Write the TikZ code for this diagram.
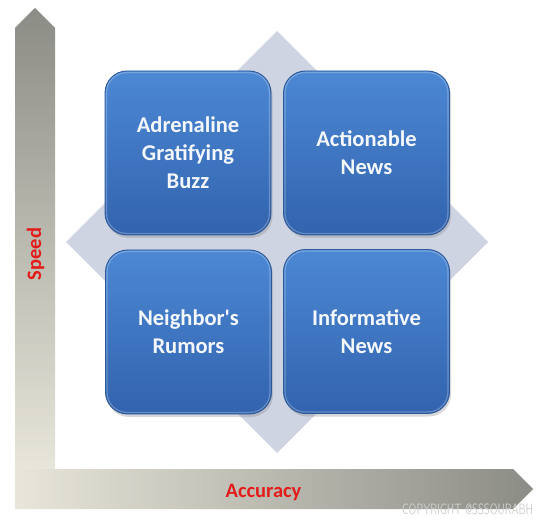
\documentclass[tikz,border=0pt]{standalone}
\usepackage{fontspec}
\setmainfont{Carlito}
\usetikzlibrary{shadows}
\definecolor{arrdark}{HTML}{8C8C86}
\definecolor{arrlight}{HTML}{E8E6DA}
\definecolor{diamondfill}{HTML}{CED4E2}
\definecolor{boxtop}{HTML}{4C88D4}
\definecolor{boxbot}{HTML}{3263AE}
\definecolor{boxedge}{HTML}{2B5898}
\definecolor{boxtext}{HTML}{F4F7FC}
\definecolor{axisred}{HTML}{E41B1B}
\definecolor{wmark}{HTML}{D0D0D0}
\begin{document}
\begin{tikzpicture}[x=1pt,y=-1pt,
  quad/.style={rounded corners=22pt, draw=boxedge, line width=0.9pt,
    top color=boxtop, bottom color=boxbot, text=boxtext,
    font=\fontsize{22.5}{28}\selectfont\bfseries, align=center,
    minimum width=166pt, minimum height=164pt, inner sep=0pt,
    drop shadow={shadow xshift=1.5pt, shadow yshift=-3pt, opacity=0.3}},
  bevel/.style={draw=white, opacity=0.25, line width=1.2pt, rounded corners=20pt},
  axislabel/.style={text=axisred, font=\fontsize{20.5}{24}\selectfont\bfseries, inner sep=0pt}]
\useasboundingbox (0,0) rectangle (554,521);
\fill[white] (0,0) rectangle (554,521);
% axes arrows
\shade[top color=arrdark, bottom color=arrlight]
  (15,28) -- (35,8) -- (55,28) -- (55,469) -- (15,469) -- cycle;
\shade[left color=arrlight, right color=arrdark]
  (15,469) -- (513,469) -- (533,489) -- (513,509) -- (15,509) -- cycle;
% diamond
\fill[diamondfill] (277,31) -- (488,242) -- (277,453) -- (66,242) -- cycle;
% boxes
\node[quad] (tl) at (188,153) {Adrenaline\\Gratifying\\Buzz};
\node[quad] (tr) at (366.5,153) {Actionable\\News};
\node[quad] (bl) at (188.5,332) {Neighbor\textquotesingle s\\Rumors};
\node[quad] (br) at (366.5,331.5) {Informative\\News};
\foreach \n in {tl,tr,bl,br}
  \draw[bevel] ([shift={(2,2)}]\n.north west) rectangle ([shift={(-2,-2)}]\n.south east);
% axis labels
\node[axislabel, rotate=90, anchor=base] (speed) at (41,254) {Speed};
\node[axislabel, anchor=base] (acc) at (263.5,497) {Accuracy};
% watermark
\node[text=wmark, font=\fontsize{15}{15}\selectfont\sffamily, xscale=0.72, inner sep=0pt, anchor=base] (wm) at (467.5,514) {COPYRIGHT @SSSOURABH};
\end{tikzpicture}
\end{document}
